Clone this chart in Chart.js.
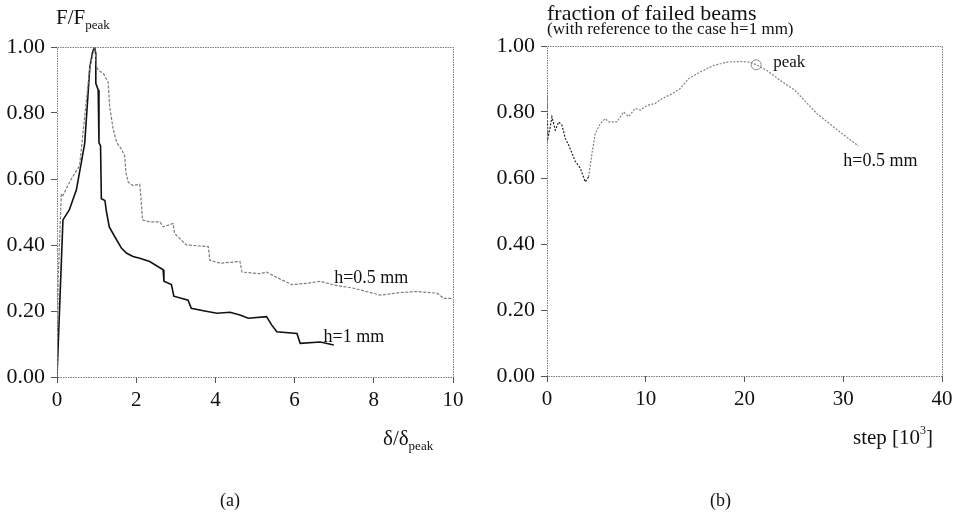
<!DOCTYPE html>
<html>
<head>
<meta charset="utf-8">
<script src="https://cdn.jsdelivr.net/npm/chart.js@4/dist/chart.umd.min.js"></script>
<style>
  html, body { margin: 0; padding: 0; background: #fff; }
  #wrap { position: relative; width: 965px; height: 520px; overflow: hidden; }
  canvas { position: absolute; top: 0; }
  #chartA { left: 0; }
  #chartB { left: 480px; }
</style>
</head>
<body>
<div id="wrap">
  <canvas id="chartA" width="480" height="520"></canvas>
  <canvas id="chartB" width="485" height="520"></canvas>
</div>
<script>
// panel (a): F/Fpeak vs delta/delta_peak
const h1X = [0, 0.15, 0.31, 0.49, 0.70, 0.83, 0.90, 0.95, 0.98, 0.98, 1.04, 1.06, 1.10, 1.12, 1.21, 1.25, 1.32, 1.46, 1.63, 1.76, 1.92, 2.09, 2.34, 2.68, 2.70, 2.89, 2.95, 3.31, 3.39, 3.73, 4.04, 4.37, 4.62, 4.83, 5.29, 5.42, 5.55, 6.06, 6.14, 6.65, 6.99];
const h1Y = [0, 0.476, 0.506, 0.567, 0.708, 0.94, 0.985, 1.0, 0.98, 0.89, 0.87, 0.71, 0.70, 0.54, 0.535, 0.50, 0.455, 0.425, 0.39, 0.375, 0.365, 0.36, 0.35, 0.325, 0.29, 0.28, 0.245, 0.233, 0.208, 0.20, 0.193, 0.196, 0.188, 0.178, 0.183, 0.158, 0.137, 0.132, 0.102, 0.106, 0.097];

const h05X = [0, 0.03, 0.11, 0.15, 0.36, 0.57, 0.83, 0.95, 1.00, 1.04, 1.17, 1.29, 1.33, 1.42, 1.51, 1.63, 1.71, 1.74, 1.80, 1.92, 2.09, 2.13, 2.16, 2.34, 2.60, 2.68, 2.93, 2.97, 3.27, 3.61, 3.82, 3.86, 4.12, 4.62, 4.67, 5.12, 5.29, 5.63, 5.93, 6.31, 6.65, 6.99, 7.49, 8.17, 8.67, 9.09, 9.60, 9.77, 10.0];
const h05Y = [0, 0.30, 0.555, 0.55, 0.60, 0.64, 0.94, 1.0, 0.94, 0.93, 0.92, 0.894, 0.82, 0.75, 0.71, 0.69, 0.67, 0.62, 0.59, 0.58, 0.584, 0.527, 0.476, 0.47, 0.47, 0.455, 0.465, 0.435, 0.40, 0.397, 0.395, 0.354, 0.345, 0.35, 0.318, 0.313, 0.318, 0.297, 0.28, 0.284, 0.29, 0.279, 0.269, 0.248, 0.256, 0.259, 0.254, 0.238, 0.238];

// panel (b): fraction of failed beams vs step [10^3]
const stepX = [0, 0.08, 0.3, 0.5, 0.84, 1.18, 1.52, 1.85, 2.19, 2.87, 3.37, 3.88, 4.21, 4.55, 4.89, 5.4, 5.9, 6.24, 7.08, 7.76, 8.26, 8.94, 9.45, 10.12, 10.96, 11.64, 12.65, 13.49, 14.33, 15.52, 16.86, 18.22, 19.57, 20.58, 21.18, 22.27, 23.61, 25.13, 27.33, 29.69, 31.54];
const fracY = [0.86, 0.72, 0.75, 0.785, 0.745, 0.77, 0.76, 0.72, 0.70, 0.65, 0.63, 0.588, 0.603, 0.674, 0.735, 0.765, 0.78, 0.77, 0.77, 0.80, 0.786, 0.811, 0.806, 0.82, 0.826, 0.84, 0.855, 0.871, 0.901, 0.921, 0.941, 0.951, 0.953, 0.951, 0.943, 0.926, 0.896, 0.865, 0.795, 0.739, 0.697];
const peakX = [21.18];
const peakY = [0.943];

const yTicks = [0, 0.2, 0.4, 0.6, 0.8, 1.0];
const SERIF = '"Liberation Serif", "DejaVu Serif", serif';

const pts = (xs, ys) => xs.map((x, i) => ({ x, y: ys[i] }));

// frame dotted around the plot + free texts (titles, labels)
const decor = {
  id: 'decor',
  afterDatasetsDraw(chart, args, opts) {
    const { ctx, chartArea: a, scales } = chart;
    ctx.save();
    ctx.strokeStyle = '#7a7a7a';
    ctx.lineWidth = 1;
    ctx.setLineDash([1.5, 1]);
    ctx.strokeRect(a.left + 0.5, a.top + 0.5, a.right - a.left, a.bottom - a.top);
    ctx.setLineDash([]);
    ctx.fillStyle = '#111';
    ctx.textBaseline = 'alphabetic';
    ctx.textAlign = 'left';
    (opts.texts || []).forEach((t) => {
      let x = t.x, y = t.y;
      if (t.data) { x = scales.x.getPixelForValue(t.data[0]); y = scales.y.getPixelForValue(t.data[1]); }
      ctx.font = `${t.size}px ${SERIF}`;
      ctx.fillText(t.text, x, y);
      let w = ctx.measureText(t.text).width;
      if (t.sub) {
        ctx.font = `${t.subSize}px ${SERIF}`;
        ctx.fillText(t.sub, x + w, y + t.subDy);
        w += ctx.measureText(t.sub).width;
      }
      if (t.after) {
        ctx.font = `${t.size}px ${SERIF}`;
        ctx.fillText(t.after, x + w + (t.afterDx || 0), y);
      }
    });
    ctx.restore();
  },
};

function axisCfg(min, max, step, fmt, fit) {
  return {
    type: 'linear', min, max,
    afterBuildTicks: fmt.ticks ? (s) => { s.ticks = fmt.ticks.map((v) => ({ value: v })); } : undefined,
    ticks: { stepSize: step, color: '#111', padding: fmt.pad, font: { family: SERIF, size: fmt.size || 21 }, callback: fmt.cb },
    grid: { drawOnChartArea: false, tickLength: 6, color: '#555', lineWidth: 1 },
    border: { display: false },
    afterFit: fit,
  };
}

new Chart(document.getElementById('chartA'), {
  type: 'scatter',
  data: {
    datasets: [
      { label: 'h=0.5 mm', data: pts(h05X, h05Y), showLine: true, pointRadius: 0, borderColor: '#7d7d7d', borderWidth: 1.2, borderDash: [3, 1.5] },
      { label: 'h=1 mm', data: pts(h1X, h1Y), showLine: true, pointRadius: 0, borderColor: '#111', borderWidth: 1.6 },
    ],
  },
  options: {
    responsive: false,
    animation: false,
    layout: { padding: { top: 47, right: 27, left: 0, bottom: 0 } },
    plugins: {
      legend: { display: false },
      tooltip: { enabled: false },
      decor: {
        texts: [
          { text: 'F/F', size: 21, x: 56, y: 24, sub: 'peak', subSize: 13, subDy: 5 },
          { text: 'δ/δ', size: 21, x: 383, y: 445, sub: 'peak', subSize: 13, subDy: 5 },
          { text: '(a)', size: 18, x: 220, y: 506 },
          { text: 'h=0.5 mm', size: 18, data: [7.0, 0.285] },
          { text: 'h=1 mm', size: 18, data: [6.73, 0.106] },
        ],
      },
    },
    scales: {
      x: axisCfg(0, 10, 2, { pad: 5, cb: (v) => v }, (s) => { s.height = 143; }),
      y: axisCfg(0, 1, 0.2, { pad: 6, size: 22, ticks: yTicks, cb: (v) => Number(v).toFixed(2) }, (s) => { s.width = 57; }),
    },
  },
  plugins: [decor],
});

new Chart(document.getElementById('chartB'), {
  type: 'scatter',
  data: {
    datasets: [
      {
        label: 'h=0.5 mm', data: pts(stepX, fracY), showLine: true, pointRadius: 0, borderWidth: 1.2, borderDash: [2, 1.5],
        borderColor: '#777',
        segment: { borderColor: (c) => (c.p0.parsed.x < 4 ? '#222' : '#808080') },
      },
      { label: 'peak', data: pts(peakX, peakY), pointRadius: 5, pointBackgroundColor: '#fff', pointBorderColor: '#8a8a8a', pointBorderWidth: 1 },
    ],
  },
  options: {
    responsive: false,
    animation: false,
    layout: { padding: { top: 46, right: 23, left: 0, bottom: 0 } },
    plugins: {
      legend: { display: false },
      tooltip: { enabled: false },
      decor: {
        texts: [
          { text: 'fraction of failed beams', size: 22, x: 67, y: 20 },
          { text: '(with reference to the case h=1 mm)', size: 17, x: 67, y: 34 },
          { text: 'step [10', size: 21, x: 373, y: 444, sub: '3', subSize: 12, subDy: -10, after: ']' },
          { text: '(b)', size: 18, x: 230, y: 506 },
          { text: 'peak', size: 17, data: [22.9, 0.935] },
          { text: 'h=0.5 mm', size: 18, data: [30.0, 0.637] },
        ],
      },
    },
    scales: {
      x: axisCfg(0, 40, 10, { pad: 5, cb: (v) => v }, (s) => { s.height = 144; }),
      y: axisCfg(0, 1, 0.2, { pad: 6, size: 22, ticks: yTicks, cb: (v) => Number(v).toFixed(2) }, (s) => { s.width = 67; }),
    },
  },
  plugins: [decor],
});
</script>
</body>
</html>
